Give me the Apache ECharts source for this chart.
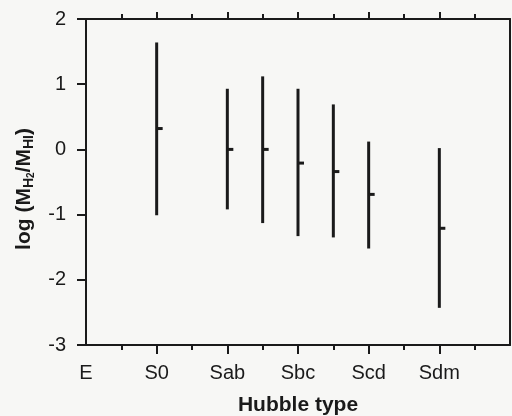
<!DOCTYPE html>
<html>
<head>
<meta charset="utf-8">
<script src="https://cdn.jsdelivr.net/npm/echarts@6/dist/echarts.min.js"></script>
<style>
  html, body { margin: 0; padding: 0; background: #f7f7f5; }
  #main { width: 512px; height: 416px; }
</style>
</head>
<body>
<div id="main"></div>
<script>
// hubble type positions (E=0 ... Sm=11)
var typePos = [2, 4, 5, 6, 7, 8, 10];
var highVals = [1.64, 0.93, 1.12, 0.93, 0.69, 0.12, 0.02];
var meanVals = [0.32, 0.0, 0.0, -0.21, -0.34, -0.69, -1.21];
var lowVals = [-1.01, -0.92, -1.13, -1.33, -1.35, -1.52, -2.43];
var typeLabels = ['E', '', 'S0', '', 'Sab', '', 'Sbc', '', 'Scd', '', 'Sdm', '', ''];

var ink = '#1a1a1a';
var bars = typePos.map(function (x, i) {
  return [x, lowVals[i], highVals[i], meanVals[i]];
});

var myChart = echarts.init(document.getElementById('main'));

var font = 'Liberation Sans, Arial, Helvetica, sans-serif';

myChart.setOption({
  backgroundColor: '#f7f7f5',
  animation: false,
  grid: { left: 86, right: 2, top: 19, bottom: 71, outerBoundsMode: 'none' },
  xAxis: [{
    type: 'value', min: 0, max: 12, interval: 2,
    name: 'Hubble type', nameLocation: 'middle', nameGap: 50,
    nameTextStyle: { fontFamily: font, fontSize: 21, fontWeight: 'bold', color: ink },
    axisLine: { onZero: false, lineStyle: { color: ink, width: 2 } },
    axisTick: { length: 9, lineStyle: { color: ink, width: 2 }, customValues: [2, 4, 6, 8, 10] },
    minorTick: { show: true, splitNumber: 2, length: 5, lineStyle: { color: ink, width: 2 } },
    splitLine: { show: false },
    axisLabel: {
      margin: 18, fontFamily: font, fontSize: 20, color: ink,
      formatter: function (v) { return typeLabels[v] || ''; }
    }
  }, {
    type: 'value', min: 0, max: 12, interval: 2, position: 'top',
    axisLine: { onZero: false, lineStyle: { color: ink, width: 2 } },
    axisTick: { length: 7, lineStyle: { color: ink, width: 2 }, customValues: [2, 4, 6, 8, 10] },
    minorTick: { show: true, splitNumber: 2, length: 5, lineStyle: { color: ink, width: 2 } },
    splitLine: { show: false },
    axisLabel: { show: false }
  }],
  yAxis: [{
    type: 'value', min: -3, max: 2, interval: 1,
    name: 'log (M{s|H}{ss|2}{b|/M}{s|HI}{b|)}',
    nameLocation: 'middle', nameGap: 50, nameRotate: 90,
    nameTextStyle: {
      fontFamily: font, fontSize: 21, fontWeight: 'bold', color: ink,
      padding: [0, 14, 0, 0],
      rich: {
        b: { fontFamily: font, fontSize: 21, fontWeight: 'bold', color: ink },
        s: { fontFamily: font, fontSize: 14, fontWeight: 'bold', color: ink, verticalAlign: 'bottom', padding: [9, 0, 0, 0] },
        ss: { fontFamily: font, fontSize: 10, fontWeight: 'bold', color: ink, verticalAlign: 'bottom', padding: [14, 0, 0, 0] }
      }
    },
    axisLine: { show: true, onZero: false, lineStyle: { color: ink, width: 2 } },
    axisTick: { show: true, length: 9, lineStyle: { color: ink, width: 2 } },
    splitLine: { show: false },
    axisLabel: { margin: 20, fontFamily: font, fontSize: 20, color: ink }
  }, {
    type: 'value', min: -3, max: 2, position: 'right',
    axisLine: { show: true, onZero: false, lineStyle: { color: ink, width: 2 } },
    axisTick: { show: false },
    splitLine: { show: false },
    axisLabel: { show: false }
  }],
  series: [{
    type: 'custom',
    data: bars,
    renderItem: function (params, api) {
      var x = api.value(0);
      var lo = api.coord([x, api.value(1)]);
      var hi = api.coord([x, api.value(2)]);
      var mid = api.coord([x, api.value(3)]);
      var style = { stroke: ink, lineWidth: 3 };
      return {
        type: 'group',
        children: [
          { type: 'line', shape: { x1: lo[0], y1: lo[1], x2: hi[0], y2: hi[1] }, style: style },
          { type: 'line', shape: { x1: mid[0], y1: mid[1], x2: mid[0] + 6, y2: mid[1] }, style: style }
        ]
      };
    }
  }]
});
</script>
</body>
</html>
